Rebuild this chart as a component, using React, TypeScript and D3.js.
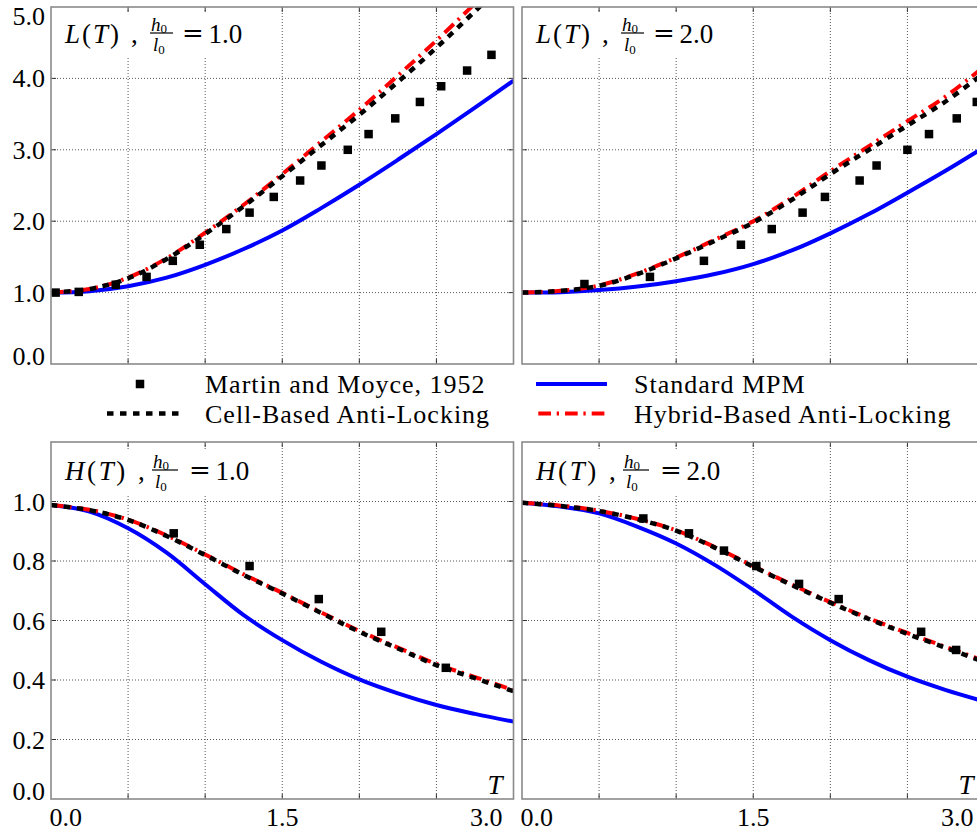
import React from 'react';
import * as d3 from 'd3';

// ---------- data ----------
const T_GRID = [0, 0.25, 0.5, 0.75, 1.0, 1.25, 1.5, 1.75, 2.0, 2.25, 2.5, 2.75, 3.0];

// L(T), h0/l0 = 1.0
const L1_CELL = [1.0, 1.05, 1.2, 1.47, 1.82, 2.21, 2.63, 3.06, 3.49, 3.95, 4.43, 4.94, 5.46];
const L1_HYBRID = [1.0, 1.05, 1.21, 1.48, 1.84, 2.23, 2.66, 3.11, 3.56, 4.04, 4.53, 5.05, 5.58];
const L1_STD = [1.0, 1.02, 1.09, 1.21, 1.39, 1.61, 1.87, 2.18, 2.51, 2.86, 3.22, 3.59, 3.97];
const L1_EXP_T = [0.03, 0.18, 0.42, 0.62, 0.79, 0.965, 1.137, 1.288, 1.445, 1.616, 1.754, 1.925, 2.06, 2.233, 2.393, 2.531, 2.699, 2.857];
const L1_EXP_V = [1.0, 1.01, 1.11, 1.22, 1.445, 1.67, 1.89, 2.12, 2.34, 2.57, 2.78, 3.0, 3.22, 3.44, 3.67, 3.89, 4.11, 4.33];

// L(T), h0/l0 = 2.0
const L2_CELL = [1.0, 1.024, 1.094, 1.26, 1.48, 1.725, 1.98, 2.3, 2.66, 3.0, 3.34, 3.68, 4.08];
const L2_HYBRID = [1.0, 1.025, 1.1, 1.27, 1.49, 1.74, 2.0, 2.33, 2.7, 3.05, 3.4, 3.75, 4.17];
const L2_STD = [1.0, 1.006, 1.035, 1.085, 1.16, 1.26, 1.4, 1.59, 1.83, 2.1, 2.4, 2.71, 3.04];
const L2_EXP_T = [0.405, 0.83, 1.18, 1.42, 1.62, 1.82, 1.965, 2.19, 2.3, 2.5, 2.64, 2.82, 2.95];
const L2_EXP_V = [1.12, 1.22, 1.445, 1.67, 1.89, 2.12, 2.34, 2.57, 2.78, 3.0, 3.22, 3.44, 3.67];

// H(T), h0/l0 = 1.0
const H1_CELL = [0.988, 0.971, 0.938, 0.884, 0.82, 0.753, 0.691, 0.626, 0.562, 0.506, 0.45, 0.406, 0.362];
const H1_HYBRID = [0.988, 0.972, 0.939, 0.886, 0.822, 0.755, 0.693, 0.628, 0.565, 0.509, 0.454, 0.41, 0.366];
const H1_STD = [0.988, 0.966, 0.91, 0.828, 0.722, 0.618, 0.534, 0.462, 0.402, 0.355, 0.316, 0.286, 0.26];
const H1_EXP_T = [0.796, 1.288, 1.737, 2.142, 2.561];
const H1_EXP_V = [0.893, 0.783, 0.672, 0.562, 0.441];

// H(T), h0/l0 = 2.0
const H2_CELL = [0.996, 0.985, 0.968, 0.94, 0.902, 0.845, 0.781, 0.719, 0.66, 0.605, 0.555, 0.508, 0.46];
const H2_HYBRID = [0.996, 0.986, 0.969, 0.941, 0.903, 0.847, 0.783, 0.721, 0.662, 0.607, 0.558, 0.511, 0.464];
const H2_STD = [0.996, 0.983, 0.96, 0.915, 0.859, 0.787, 0.703, 0.613, 0.534, 0.467, 0.411, 0.366, 0.328];
const H2_EXP_T = [0.787, 1.083, 1.31, 1.52, 1.797, 2.054, 2.589, 2.816];
const H2_EXP_V = [0.943, 0.893, 0.835, 0.783, 0.723, 0.672, 0.562, 0.501];

const X_GRID = [0.5, 1.0, 1.5, 2.0, 2.5];
const X_TICK_VALUES = [0, 1.5, 3.0];
const X_TICK_LABELS = ['0.0', '1.5', '3.0'];
const L_Y_TICKS = [0, 1, 2, 3, 4, 5];
const L_Y_LABELS = ['0.0', '1.0', '2.0', '3.0', '4.0', '5.0'];
const H_Y_TICKS = [0, 0.2, 0.4, 0.6, 0.8, 1.0];
const H_Y_LABELS = ['0.0', '0.2', '0.4', '0.6', '0.8', '1.0'];

const LEGEND_LABELS = ['Martin and Moyce, 1952', 'Standard MPM', 'Cell-Based Anti-Locking', 'Hybrid-Based Anti-Locking'];

// ---------- styles ----------
const FONT = 'Liberation Serif';
const BLUE = '#0000ff';
const RED = '#ff0000';
const FRAME = '#8a8a8a';
const GRID = '#444';
const CELL_DASH = '6.5,6.5';
const HYB_DASH = '12.7,5.7,2.3,6';

type PanelSpec = {
  id: string;
  left: number;
  top: number;
  yMax: number;
  yTicks: number[];
  yLabels: string[];
  showY: boolean;
  showX: boolean;
  fn: string;
  ratio: string;
  cell: number[];
  hyb: number[];
  std: number[];
  expT: number[];
  expV: number[];
};

const PW = 462.5;
const PH = 357;

const PANELS: PanelSpec[] = [
  { id: 'p1', left: 51, top: 7, yMax: 5, yTicks: L_Y_TICKS, yLabels: L_Y_LABELS, showY: true, showX: false, fn: 'L', ratio: '1.0', cell: L1_CELL, hyb: L1_HYBRID, std: L1_STD, expT: L1_EXP_T, expV: L1_EXP_V },
  { id: 'p2', left: 522, top: 7, yMax: 5, yTicks: L_Y_TICKS, yLabels: L_Y_LABELS, showY: false, showX: false, fn: 'L', ratio: '2.0', cell: L2_CELL, hyb: L2_HYBRID, std: L2_STD, expT: L2_EXP_T, expV: L2_EXP_V },
  { id: 'p3', left: 51, top: 442, yMax: 1.2, yTicks: H_Y_TICKS, yLabels: H_Y_LABELS, showY: true, showX: true, fn: 'H', ratio: '1.0', cell: H1_CELL, hyb: H1_HYBRID, std: H1_STD, expT: H1_EXP_T, expV: H1_EXP_V },
  { id: 'p4', left: 522, top: 442, yMax: 1.2, yTicks: H_Y_TICKS, yLabels: H_Y_LABELS, showY: false, showX: true, fn: 'H', ratio: '2.0', cell: H2_CELL, hyb: H2_HYBRID, std: H2_STD, expT: H2_EXP_T, expV: H2_EXP_V },
];

function Title({ x, base, fn, ratio }: { x: number; base: number; fn: string; ratio: string }) {
  const isH = fn === 'H';
  const commaX = x + (isH ? 73 : 66);
  const fracX = x + (isH ? 87 : 85);
  const fracW = isH ? 26 : 23;
  const eqX = x + (isH ? 124 : 117);
  return (
    <g fontFamily={FONT} fill="#000">
      <text x={x} y={base} fontSize={27} letterSpacing={isH ? 2.6 : 2}>
        <tspan fontStyle="italic">{fn}</tspan>
        <tspan>(</tspan>
        <tspan fontStyle="italic">T</tspan>
        <tspan>)</tspan>
      </text>
      <text x={commaX} y={base} fontSize={27}>,</text>
      <text x={fracX + 1} y={base - 12} fontSize={19} fontStyle="italic">
        h<tspan fontStyle="normal" fontSize={13} dy={1.5}>0</tspan>
      </text>
      <line x1={fracX} x2={fracX + fracW} y1={base - 10} y2={base - 10} stroke="#000" strokeWidth={1.2} />
      <text x={fracX + 3} y={base + 8} fontSize={19} fontStyle="italic">
        l<tspan fontStyle="normal" fontSize={13} dy={3}>0</tspan>
      </text>
      <text x={eqX} y={base - 1} fontSize={26} fontFamily="DejaVu Serif">=</text>
      <text x={eqX + 26.5} y={base} fontSize={27}>{ratio}</text>
    </g>
  );
}

function Panel({ p }: { p: PanelSpec }) {
  const x = d3.scaleLinear().domain([0, 3]).range([p.left, p.left + PW]);
  const y = d3.scaleLinear().domain([0, p.yMax]).range([p.top + PH, p.top]);
  const bottom = p.top + PH;
  const right = p.left + PW;
  const mk = (vals: number[]) =>
    d3.line<number>().x((_, i) => x(T_GRID[i])).y((v) => y(v)).curve(d3.curveCatmullRom.alpha(0.5))(vals) || '';
  const innerY = p.yTicks.filter((v) => v > 0 && v < p.yMax);
  const base = p.fn === 'L' ? p.top + 36 : p.top + 38;
  const boxW = p.fn === 'L' ? 200 : 206;
  return (
    <g>
      <defs>
        <clipPath id={`clip-${p.id}`}>
          <rect x={p.left} y={p.top} width={PW} height={PH} />
        </clipPath>
      </defs>
      <rect x={p.left} y={p.top} width={PW} height={PH} fill="#fff" />
      {X_GRID.map((v) => (
        <line key={`gx${v}`} x1={x(v)} x2={x(v)} y1={p.top} y2={bottom} stroke={GRID} strokeWidth={0.9} strokeDasharray="1,2" />
      ))}
      {innerY.map((v) => (
        <line key={`gy${v}`} x1={p.left} x2={right} y1={y(v)} y2={y(v)} stroke={GRID} strokeWidth={0.9} strokeDasharray="1,2" />
      ))}
      {X_GRID.map((v) => (
        <g key={`tx${v}`} stroke="#333" strokeWidth={1}>
          <line x1={x(v)} x2={x(v)} y1={bottom} y2={bottom - 5} />
          <line x1={x(v)} x2={x(v)} y1={p.top} y2={p.top + 5} />
        </g>
      ))}
      {innerY.map((v) => (
        <g key={`ty${v}`} stroke="#333" strokeWidth={1}>
          <line x1={p.left} x2={p.left + 5} y1={y(v)} y2={y(v)} />
          <line x1={right} x2={right - 5} y1={y(v)} y2={y(v)} />
        </g>
      ))}
      <rect x={p.left + 5} y={base - 30} width={boxW} height={44} fill="#fff" />
      <g clipPath={`url(#clip-${p.id})`}>
        <path d={mk(p.std)} fill="none" stroke={BLUE} strokeWidth={4} />
        <path d={mk(p.hyb)} fill="none" stroke={RED} strokeWidth={4} strokeDasharray={HYB_DASH} />
        <path d={mk(p.cell)} fill="none" stroke="#000" strokeWidth={4.5} strokeDasharray={CELL_DASH} />
        {p.expT.map((t, i) => (
          <rect key={i} x={x(t) - 4.25} y={y(p.expV[i]) - 4.25} width={8.5} height={8.5} fill="#000" />
        ))}
      </g>
      <rect x={p.left} y={p.top} width={PW} height={PH} fill="none" stroke={FRAME} strokeWidth={1.6} />
      <Title x={p.left + 14} base={base} fn={p.fn} ratio={p.ratio} />
      {p.showY &&
        p.yTicks.map((v, i) => {
          let yy = y(v) + 9;
          if (v === 0) yy = bottom + 1;
          if (v === p.yMax) yy = p.top + 18;
          return (
            <text key={`yl${v}`} x={p.left - 6} y={yy} textAnchor="end" fontFamily={FONT} fontSize={26} fill="#000">
              {p.yLabels[i]}
            </text>
          );
        })}
      {p.showX &&
        X_TICK_VALUES.map((v, i) => {
          const anchor = i === 0 ? 'start' : i === X_TICK_VALUES.length - 1 ? 'end' : 'middle';
          const dx = i === 0 ? -1.5 : i === X_TICK_VALUES.length - 1 ? -11 : 0;
          return (
            <text key={`xl${v}`} x={x(v) + dx} y={826} textAnchor={anchor} fontFamily={FONT} fontSize={26} fill="#000">
              {X_TICK_LABELS[i]}
            </text>
          );
        })}
      {p.showX && (
        <text x={right - 11} y={bottom - 5} textAnchor="end" fontFamily={FONT} fontStyle="italic" fontSize={27} fill="#000">
          T
        </text>
      )}
    </g>
  );
}

function Legend() {
  const row1 = 384;
  const row2 = 413.5;
  const txt = { fontFamily: FONT, fontSize: 26, letterSpacing: 1, fill: '#000' } as const;
  return (
    <g>
      <rect x={140 - 4.25} y={row1 - 4.25} width={8.5} height={8.5} fill="#000" />
      <text x={205} y={row1 + 9} {...txt}>{LEGEND_LABELS[0]}</text>
      <line x1={536} x2={607} y1={row1} y2={row1} stroke={BLUE} strokeWidth={4} />
      <text x={634} y={row1 + 9} {...txt}>{LEGEND_LABELS[1]}</text>
      <line x1={107} x2={182} y1={row2} y2={row2} stroke="#000" strokeWidth={4.5} strokeDasharray={CELL_DASH} />
      <text x={205} y={row2 + 9} {...txt}>{LEGEND_LABELS[2]}</text>
      <line x1={538.3} x2={605} y1={row2} y2={row2} stroke={RED} strokeWidth={4} strokeDasharray={HYB_DASH} />
      <text x={634} y={row2 + 9} {...txt}>{LEGEND_LABELS[3]}</text>
    </g>
  );
}

export default function App() {
  return (
    <svg width={977} height={832} style={{ position: 'absolute', left: 0, top: 0, background: '#fff' }}>
      <rect x={0} y={0} width={977} height={832} fill="#fff" />
      {PANELS.map((p) => (
        <Panel key={p.id} p={p} />
      ))}
      <Legend />
    </svg>
  );
}
